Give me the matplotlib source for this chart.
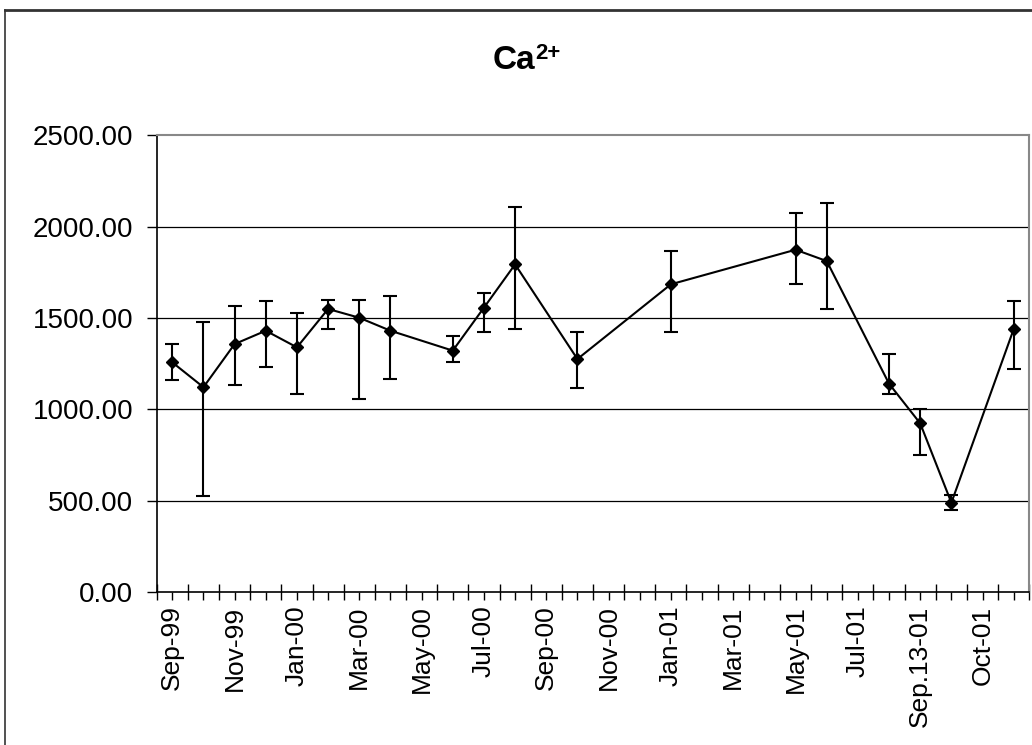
import numpy as np
import matplotlib
matplotlib.use("Agg")
import matplotlib.pyplot as plt
from matplotlib.lines import Line2D
from matplotlib.ticker import FormatStrFormatter

plt.rcParams['font.family'] = ['Liberation Sans', 'DejaVu Sans']

# category axis: 28 slots, only every other one is labelled
n_slots = 28
tick_labels = ['Sep-99', 'Nov-99', 'Jan-00', 'Mar-00', 'May-00', 'Jul-00', 'Sep-00',
               'Nov-00', 'Jan-01', 'Mar-01', 'May-01', 'Jul-01', 'Sep.13-01', 'Oct-01']

# slots that carry a measurement
slots = [0, 1, 2, 3, 4, 5, 6, 7, 9, 10, 11, 13, 16, 20, 21, 23, 24, 25, 27]
ca_mean = [1258, 1122, 1358, 1431, 1340, 1550, 1502, 1431, 1322, 1557, 1794,
           1276, 1685, 1874, 1812, 1141, 924, 490, 1440]
ca_high = [1358, 1477, 1568, 1594, 1530, 1601, 1601, 1623, 1402, 1639, 2108,
           1422, 1867, 2075, 2130, 1305, 1004, 534, 1594]
ca_low = [1160, 528, 1133, 1234, 1086, 1440, 1059, 1169, 1258, 1422, 1440,
          1116, 1422, 1685, 1548, 1086, 753, 452, 1223]

mean = np.array(ca_mean, dtype=float)
yerr = [mean - np.array(ca_low), np.array(ca_high) - mean]

W, H = 1032, 745
fig = plt.figure(figsize=(W / 100, H / 100), dpi=100)
ax = fig.add_axes([156.7 / W, 1 - 592.3 / H, (1029.3 - 156.7) / W, (592.3 - 135.3) / H])

# horizontal gridlines
for y in [500, 1000, 1500, 2000]:
    ax.axhline(y, color='black', linewidth=0.9, zorder=1)

ax.errorbar(slots, mean, yerr=yerr, color='black', marker='D', markersize=6.5,
            linewidth=1.5, elinewidth=1.5, capsize=5, capthick=1.5, zorder=3)

ax.set_xlim(-0.5, n_slots - 0.5)
ax.set_ylim(0, 2500)
ax.set_yticks(np.arange(0, 2501, 500))
ax.yaxis.set_major_formatter(FormatStrFormatter('%.2f'))
ax.tick_params(axis='y', direction='out', length=7, width=1, labelsize=20, pad=10)

ax.set_xticks(np.arange(n_slots))
labels = [''] * n_slots
for i, lab in enumerate(tick_labels):
    labels[2 * i] = lab
ax.set_xticklabels(labels, rotation=90, fontsize=19)
ax.set_xticks(np.arange(n_slots + 1) - 0.5, minor=True)
ax.tick_params(axis='x', which='major', direction='out', length=5.5, width=1, pad=4)
ax.tick_params(axis='x', which='minor', direction='inout', length=11.5, width=1)

for side in ['left', 'bottom']:
    ax.spines[side].set_linewidth(1.2)
    ax.spines[side].set_color('black')
for side in ['top', 'right']:
    ax.spines[side].set_color('#888888')
    ax.spines[side].set_linewidth(1.5)

# title: "Ca" with a raised "2+"
fig.text(492.7 / W, 1 - 69.3 / H, 'Ca', ha='left', va='baseline', fontsize=24, fontweight='bold')
fig.text(535.5 / W, 1 - 59.3 / H, '2+', ha='left', va='baseline', fontsize=16, fontweight='bold')

# outer chart frame (only left and top edges are visible)
fig.add_artist(Line2D([5 / W, 5 / W], [0, 1 - 9.7 / H], transform=fig.transFigure,
                      color='#333333', linewidth=1.2))
fig.add_artist(Line2D([5 / W, 1], [1 - 9.7 / H, 1 - 9.7 / H], transform=fig.transFigure,
                      color='#333333', linewidth=2))

fig.savefig('out.png', dpi=100)
